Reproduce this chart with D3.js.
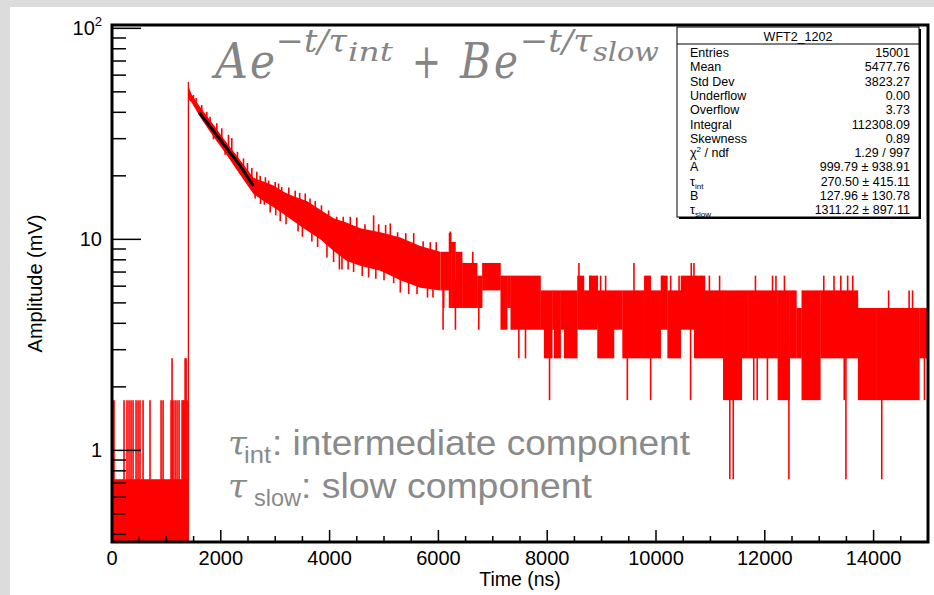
<!DOCTYPE html>
<html>
<head>
<meta charset="utf-8">
<script src="https://cdn.jsdelivr.net/npm/d3@7"></script>
<style>
  html, body { margin: 0; padding: 0; background: #dcdcdc; }
  svg { display: block; }
</style>
</head>
<body>
<svg id="chart" width="934" height="595"></svg>
<script>
// flat (quantised) parts of the waveform: segment start (ns), band top and bottom (mV); 0 = empty bin
const segT  = [0, 1392, 1410, 6037, 6190, 6233, 6313, 6436, 6712, 6804, 7141, 7264, 7325, 7877, 7939, 8092, 8123, 8246, 8307, 8552, 8675, 8767, 8920,
               9227, 9381, 9780, 9902, 10086, 10209, 10454, 10698, 10900, 11232, 11577, 11703, 12236, 12456, 12581, 12675, 13020, 13711, 14056, 14841];
const segHi = [0.73, 55.7, 0, 8.73, 10.73, 9.73, 8.73, 7.73, 6.73, 7.73, 6.73, 6.73, 6.73, 5.73, 5.73, 5.73, 5.73, 5.73, 5.73, 6.73, 5.73, 6.73, 5.73,
               5.73, 5.73, 6.73, 5.73, 6.73, 5.73, 6.73, 6.73, 5.73, 5.73, 5.73, 5.73, 5.73, 5.73, 4.73, 5.73, 5.73, 4.73, 4.73, 4.73];
const segLo = [0, 0, 0, 5.73, 4.73, 4.73, 4.73, 4.73, 4.73, 5.73, 3.73, 4.73, 3.73, 3.73, 2.73, 3.73, 2.73, 3.73, 2.73, 3.73, 3.73, 3.73, 2.73,
               3.73, 2.73, 2.73, 2.73, 3.73, 2.73, 3.73, 2.73, 2.73, 1.73, 2.73, 2.73, 1.73, 2.73, 2.73, 1.73, 2.73, 1.73, 1.73, 2.73];

// decaying part: envelope of the band (ns, mV)
const decT  = [1410, 1466, 1620, 1865, 2080, 2295, 2448, 2601, 2785, 2969, 3153, 3337, 3583, 3828, 4074, 4319, 4564, 4933, 5301, 5669, 6037];
const decHi = [53.0, 48.4, 42.4, 34.9, 29.3, 24.9, 22.1, 19.6, 18.8, 18.0, 16.8, 16.0, 15.2, 13.8, 12.6, 12.0, 11.3, 10.8, 10.2, 9.3, 8.73];
const decLo = [46.0, 44.4, 38.0, 30.6, 25.7, 21.3, 18.7, 16.4, 15.2, 14.2, 13.2, 12.2, 11.0, 10.0, 8.8, 7.9, 7.5, 7.1, 6.4, 5.9, 5.73];

// single-bin spikes sticking out of the band (ns, mV)
const spikeT = [18, 37, 221, 276, 313, 350, 387, 442, 479, 515, 571, 699, 902, 939, 1086, 1104, 1123, 1160, 1196, 1233, 1288, 1307, 1325, 1344, 1362, 1380,
                1497, 1546, 1650, 1742, 1803, 1926, 2018, 2141, 2202, 2417, 2490, 2570,
                1680, 1865, 2079, 2355, 2509, 2632,
                2306, 2662, 2724, 2820, 2880, 3000, 3061, 3120, 3250, 3368, 3450, 3552, 3640, 3736, 3850, 3981, 4130, 4250, 4380, 4500, 4650, 4809, 4901, 5030, 5116, 5250, 5400, 5546, 5720, 5850, 5960, 6220,
                2730, 2800, 2908, 3010, 3092, 3200, 3420, 3500, 3674, 3780, 3951, 4073, 4180, 4227, 4340, 4441, 4600, 4717, 4850, 5000, 5178, 5300, 5454, 5607, 5800, 5900, 6098,
                6632, 8583, 8798, 8920, 8982, 9074, 9595, 10117, 10270, 10424, 10648, 10698, 10824, 10981, 11169,
                11828, 12142, 12205, 12361, 13084, 13272, 13397, 13523, 13617, 14276, 14653, 14716,
                6086, 6313, 6742, 7479, 7601, 8043, 9473, 9902, 10636, 11357, 11420, 11797, 11860, 12048, 12443, 13460, 13491, 14150, 14935];
const spikeV = [1.73, 1.73, 1.73, 1.73, 1.73, 1.73, 1.73, 1.73, 1.73, 1.73, 1.73, 1.73, 1.73, 1.73, 1.73, 2.73, 1.73, 1.73, 1.73, 1.73, 1.73, 1.73, 1.73, 2.73, 2.73, 1.73,
                48.3, 46.7, 43.3, 40.2, 38.1, 35.5, 33.6, 31.3, 30.2, 24.2, 23.0, 21.8,
                36.5, 29.8, 25.2, 20.4, 18.0, 15.6,
                26.0, 20.9, 20.0, 19.7, 19.0, 18.7, 18.4, 17.7, 17.6, 17.0, 16.6, 16.5, 15.6, 15.2, 14.5, 13.7, 12.8, 12.8, 12.8, 12.7, 11.8, 13.0, 11.8, 11.7, 11.9, 10.8, 10.7, 10.7, 9.8, 9.7, 9.7, 10.9,
                14.7, 14.6, 13.4, 13.0, 12.2, 11.8, 10.9, 10.3, 9.76, 9.2, 8.2, 7.8, 7.2, 7.2, 7.2, 7.0, 6.7, 6.6, 6.5, 6.4, 6.2, 5.6, 5.5, 5.5, 5.3, 5.3, 4.73,
                8.73, 7.73, 6.73, 6.73, 6.73, 6.73, 7.73, 6.73, 6.73, 6.73, 7.73, 7.73, 6.73, 6.73, 6.73,
                6.73, 6.73, 6.73, 6.73, 6.73, 6.73, 6.73, 6.73, 6.73, 5.73, 5.73, 5.73,
                3.73, 3.73, 3.73, 2.73, 2.73, 1.73, 1.73, 1.73, 1.73, 0.73, 0.73, 1.73, 1.73, 1.73, 0.73, 1.73, 0.73, 0.73, 1.73];

// fit curve points
const fitT = [1600, 1850, 2100, 2350, 2600];
const fitV = [40.0, 33.0, 27.2, 22.4, 17.9];

const xTicks = [0, 2000, 4000, 6000, 8000, 10000, 12000, 14000];
const statNames  = ["Entries", "Mean", "Std Dev", "Underflow", "Overflow", "Integral", "Skewness", "chi", "A", "tint", "B", "tslow"];
const statValues = ["15001", "5477.76", "3823.27", "0.00", "3.73", "112308.09", "0.89", "1.29 / 997", "999.79 \u00b1 938.91", "270.50 \u00b1 415.11", "127.96 \u00b1 130.78", "1311.22 \u00b1 897.11"];

const svg = d3.select('#chart');
const L = 112, R = 928, T = 25, B = 542;
const SANS = 'Liberation Sans, Arial, Helvetica, sans-serif';
const RED = '#ff0000';

svg.append('rect').attr('x', 10).attr('y', 7).attr('width', 924).attr('height', 588).attr('fill', 'white');

const x = d3.scaleLinear().domain([0, 15000]).range([L, R]);
const y = d3.scaleLog().domain([0.368, 103.7]).range([B, T]).clamp(true);
const yv = v => v <= 0.368 ? B : y(v);

const band = svg.append('g');

// step segments
band.selectAll('rect')
    .data(segT)
    .join('rect')
    .attr('x', d => x(d))
    .attr('width', (d, i) => x(i + 1 < segT.length ? segT[i + 1] : 15000) - x(d) + 0.3)
    .attr('y', (d, i) => yv(segHi[i]))
    .attr('height', (d, i) => yv(segLo[i]) - yv(segHi[i]))
    .attr('fill', RED);

// decay envelope
const decArea = d3.area()
    .x(d => x(d))
    .y0((d, i) => y(decLo[i]))
    .y1((d, i) => y(decHi[i]));
band.append('path')
    .datum(decT)
    .attr('d', decArea)
    .attr('fill', RED);

// where a spike starts: middle of the band at time t
function bandMid(t) {
    if (t >= decT[0] && t <= decT[decT.length - 1]) {
        const i = Math.max(0, d3.bisectRight(decT, t) - 1);
        const j = Math.min(decT.length - 1, i + 1);
        const f = j === i ? 0 : (t - decT[i]) / (decT[j] - decT[i]);
        const m0 = (y(decHi[i]) + y(decLo[i])) / 2, m1 = (y(decHi[j]) + y(decLo[j])) / 2;
        return m0 + (m1 - m0) * f;
    }
    const i = Math.max(0, d3.bisectRight(segT, t) - 1);
    return (yv(segHi[i]) + yv(segLo[i])) / 2;
}

band.selectAll('line')
    .data(spikeT)
    .join('line')
    .attr('x1', d => x(d)).attr('x2', d => x(d))
    .attr('y1', d => bandMid(d))
    .attr('y2', (d, i) => yv(spikeV[i]))
    .attr('stroke', RED)
    .attr('stroke-width', 1.6);

// fit line
const fitLine = d3.line().x(d => x(d)).y((d, i) => y(fitV[i]));
svg.append('path')
    .datum(fitT)
    .attr('d', fitLine)
    .attr('fill', 'none')
    .attr('stroke', 'black')
    .attr('stroke-width', 3);

// frame
svg.append('rect')
    .attr('x', L).attr('y', T).attr('width', R - L).attr('height', B - T)
    .attr('fill', 'none').attr('stroke', 'black').attr('stroke-width', 3);

// x axis ticks
const xAxis = svg.append('g');
xAxis.selectAll('line')
    .data(d3.range(0, 15001, 500))
    .join('line')
    .attr('x1', d => x(d)).attr('x2', d => x(d))
    .attr('y1', B).attr('y2', d => d % 2000 === 0 ? B - 12 : B - 6)
    .attr('stroke', 'black').attr('stroke-width', 1.5);
xAxis.selectAll('text')
    .data(xTicks)
    .join('text')
    .attr('x', d => x(d))
    .attr('y', 565)
    .attr('text-anchor', 'middle')
    .attr('font-family', SANS)
    .attr('font-size', 20)
    .text(d => d);
svg.append('text')
    .attr('x', (L + R) / 2).attr('y', 586)
    .attr('text-anchor', 'middle')
    .attr('font-family', SANS).attr('font-size', 19.5)
    .text('Time (ns)');

// y axis ticks (log)
const yMinor = [];
[0.1, 1, 10].forEach(dec => d3.range(1, 10).forEach(k => {
    const v = dec * k;
    if (v >= 0.368 && v <= 103.7) yMinor.push(v);
}));
yMinor.push(100);
const yAxis = svg.append('g');
yAxis.selectAll('line')
    .data(yMinor)
    .join('line')
    .attr('x1', L)
    .attr('x2', d => [1, 10, 100].some(m => Math.abs(d - m) < 1e-6) ? L + 29 : L + 14)
    .attr('y1', d => y(d)).attr('y2', d => y(d))
    .attr('stroke', 'black').attr('stroke-width', 1.5);

const yLab = [{v: 100, base: '10', sup: '2'}, {v: 10, base: '10', sup: ''}, {v: 1, base: '1', sup: ''}];
yLab.forEach(d => {
    const t = svg.append('text')
        .attr('x', 102).attr('y', y(d.v) + 7)
        .attr('text-anchor', 'end')
        .attr('font-family', SANS).attr('font-size', 20)
        .text(d.base);
    if (d.sup) t.append('tspan').attr('dy', -9).attr('font-size', 13).text(d.sup);
});
svg.append('text')
    .attr('transform', `translate(42,${(T + B) / 2}) rotate(-90)`)
    .attr('text-anchor', 'middle')
    .attr('font-family', SANS).attr('font-size', 20)
    .text('Amplitude (mV)');

// stats box
const bx = 677, by = 27, bw = 242, bh = 190;
svg.append('rect').attr('x', bx + 2).attr('y', by + 2).attr('width', bw).attr('height', bh).attr('fill', 'black');
svg.append('rect').attr('x', bx).attr('y', by).attr('width', bw).attr('height', bh)
    .attr('fill', 'white').attr('stroke', 'black').attr('stroke-width', 1);
svg.append('line').attr('x1', bx).attr('x2', bx + bw).attr('y1', 44).attr('y2', 44).attr('stroke', 'black');
svg.append('text').attr('x', bx + bw / 2).attr('y', 41).attr('text-anchor', 'middle')
    .attr('font-family', SANS).attr('font-size', 12.5).text('WFT2_1202');

const rows = svg.append('g').attr('font-family', SANS).attr('font-size', 12.5);
statNames.forEach((name, i) => {
    const yy = 57 + i * 14.3;
    const lab = rows.append('text').attr('x', 690).attr('y', yy);
    if (name === 'chi') {
        lab.text('\u03c7');
        lab.append('tspan').attr('dy', -5).attr('font-size', 8).text('2');
        lab.append('tspan').attr('dy', 5).text(' / ndf');
    } else if (name === 'tint' || name === 'tslow') {
        lab.text('\u03c4');
        lab.append('tspan').attr('dy', 3).attr('font-size', 8).text(name === 'tint' ? 'int' : 'slow');
    } else {
        lab.text(name);
    }
    rows.append('text').attr('x', 910).attr('y', yy).attr('text-anchor', 'end').text(statValues[i]);
});

// formula annotation
const GRAY = '#858585';
const f = svg.append('g').attr('fill', GRAY).attr('font-family', 'DejaVu Serif, Liberation Serif, serif');
const fParts = [
    {s: 'A', x: 215, y: 78, fs: 48, w: 33},
    {s: 'e', x: 250, y: 78, fs: 48, w: 25},
    {s: '\u2212t/\u03c4', x: 276, y: 52, fs: 32, w: 71},
    {s: 'int', x: 348, y: 61, fs: 26, w: 45},
    {s: '+', x: 412, y: 78, fs: 48, w: 29, up: true},
    {s: 'B', x: 460, y: 78, fs: 48, w: 31},
    {s: 'e', x: 494, y: 78, fs: 48, w: 24},
    {s: '\u2212t/\u03c4', x: 520, y: 52, fs: 32, w: 72},
    {s: 'slow', x: 593, y: 61, fs: 26, w: 66}
];
fParts.forEach(p => {
    f.append('text')
        .attr('x', p.x).attr('y', p.y)
        .attr('font-size', p.fs)
        .attr('font-style', p.up ? 'normal' : 'italic')
        .attr('textLength', p.w).attr('lengthAdjust', 'spacingAndGlyphs')
        .text(p.s);
});

// tau annotations
const a = svg.append('g').attr('fill', '#8a8a8a');
function tauLine(sub, rest, base, subX, restX, subW, restW) {
    a.append('text').attr('x', 228).attr('y', base)
        .attr('font-family', 'DejaVu Serif, serif').attr('font-style', 'italic').attr('font-size', 34).text('\u03c4');
    a.append('text').attr('x', subX).attr('y', base + 8)
        .attr('font-family', SANS).attr('font-size', 24)
        .attr('textLength', subW).attr('lengthAdjust', 'spacingAndGlyphs').text(sub);
    a.append('text').attr('x', restX).attr('y', base)
        .attr('font-family', SANS).attr('font-size', 35)
        .attr('textLength', restW).attr('lengthAdjust', 'spacingAndGlyphs').text(rest);
}
tauLine('int', ': intermediate component', 455, 244, 272, 27, 418);
tauLine('slow', ': slow component', 498, 254, 301, 47, 291);
</script>
</body>
</html>
